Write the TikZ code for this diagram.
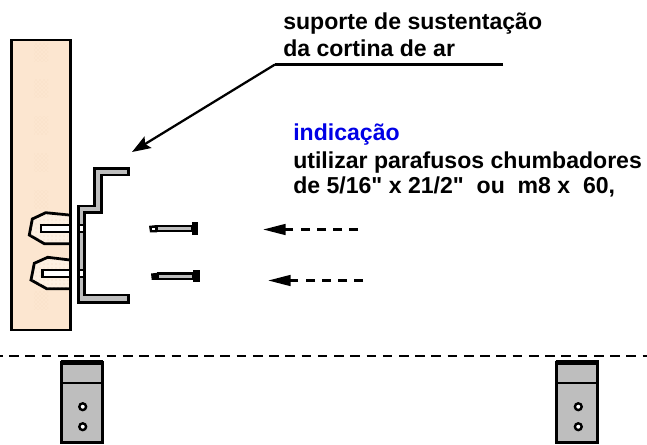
\documentclass[tikz,border=0pt]{standalone}
\usepackage{fontspec}
\newfontfamily\labfont{Liberation Sans}
\usetikzlibrary{arrows.meta,patterns}
\definecolor{peach}{HTML}{FCE6D0}
\definecolor{peachdot}{HTML}{F4DAC0}
\definecolor{blobfill}{HTML}{FDF0E2}
\definecolor{metal}{HTML}{BEBEBE}
\tikzset{
  x=0.75pt,y=-0.75pt,
  outline/.style={draw=black,line width=2.1pt,line join=miter},
  wallbody/.style={outline,fill=peach},
  blob/.style={outline,fill=blobfill},
  blobdots/.style={pattern=dots,pattern color=peachdot},
  metalpart/.style={draw=black,line width=2pt,fill=metal,line join=miter},
  hole/.style={draw=black,line width=1.8pt,fill=white},
  label/.style={font=\labfont\bfseries\fontsize{17.3}{19}\selectfont,anchor=base west,inner sep=0pt,text=black},
  flow/.style={line width=2pt,dash pattern=on 6.75pt off 5.25pt},
  tip/.style={-{Triangle[length=17pt,width=8pt]},line width=2pt},
  leadtip/.style={-{Stealth[length=14pt,width=10pt,inset=2.5pt]},line width=1.7pt},
  leader/.style={line width=1.7pt},
  mount/.style={draw=black,line width=1.9pt,fill=metal},
}
\begin{document}
\begin{tikzpicture}
\useasboundingbox (0,0) rectangle (647,444);
% wall
\draw[wallbody] (11.5,40) rectangle (70.5,330);
\foreach \yy in {52,88,125,162,199,300}{
  \fill[pattern=crosshatch dots,pattern color=peachdot] (34,\yy-9) rectangle (48,\yy+9);
}
% anchors
\draw[blob] (69,215) -- (45.7,212.7) -- (32.3,219) -- (29.3,235) -- (44.3,243.7) -- (69,243.7);
\fill[blobdots] (68,216) -- (45.7,214) -- (33.5,220) -- (30.5,235) -- (44.5,242.5) -- (68,242.5) -- cycle;
\draw[blob] (70,260) -- (47.7,257.3) -- (34.3,263.3) -- (31,280) -- (46.7,288.7) -- (70,288.7);
\fill[blobdots] (69,261) -- (47.7,258.5) -- (35.5,264.5) -- (32.2,280) -- (47,287.5) -- (69,287.5) -- cycle;
\draw[hole] (69.5,225) -- (41,225) -- (41,231.7) -- (69.5,231.7);
\draw[hole] (70,270) -- (42.5,270) -- (42.5,276.7) -- (70,276.7);
\draw[draw=black,line width=2.1pt] (70.5,40) -- (70.5,330);
% bracket
\draw[metalpart] (94.5,168.3) -- (128.3,168.3) -- (128.3,175) -- (101.7,175) -- (101.7,212.7) -- (84.3,212.7) -- (84.3,295) -- (128.3,295) -- (128.3,302.7) -- (78.3,302.7) -- (78.3,206) -- (94.5,206) -- cycle;
\draw[hole] (78.3,225) rectangle (84.3,231.7);
\draw[hole] (78.3,270) rectangle (84.3,276.7);
% screws
\fill[black] (191.7,222.3) rectangle (198,235.3);
\draw[draw=black,line width=1.7pt,fill=metal] (156.7,226) rectangle (191.7,231.2);
\fill[black] (149,225.8) -- (157,225) -- (157,232.3) -- (150,232.3) -- cycle;
\fill[white] (152,228) rectangle (154.5,229.8);
\fill[black] (193.3,270.3) rectangle (199.7,282.3);
\draw[draw=black,line width=1.7pt,fill=metal] (158,273.6) rectangle (193.3,278.8);
\fill[black] (151,273.5) -- (158.3,272.7) -- (158.3,279.8) -- (151.7,279.8) -- cycle;
% flow arrows
\coordinate (f1s) at (358,229.5);
\coordinate (f1d) at (300.7,229.5);
\coordinate (f1m) at (293,229.5);
\coordinate (f1e) at (263,229.5);
\coordinate (f2s) at (363,280.5);
\coordinate (f2d) at (305.7,280.5);
\coordinate (f2m) at (298,280.5);
\coordinate (f2e) at (268,280.5);
\draw[flow] (f1s) -- (f1d);
\draw[tip] (f1m) -- (f1e);
\draw[flow] (f2s) -- (f2d);
\draw[tip] (f2m) -- (f2e);
% leader
\coordinate (la) at (503,64.5);
\coordinate (lb) at (275,64.5);
\coordinate (lc) at (132,152);
\draw[leader] (la) -- (lb);
\draw[leadtip,line join=bevel] (lb) -- (lc);
% text
\node[label] (t1) at (283,29) {suporte de sustentação};
\node[label] (t2) at (283,56) {da cortina de ar};
\node[label,text={rgb,255:red,0;green,0;blue,230}] (t3) at (293,140) {indicação};
\node[label] (t4) at (293,168) {utilizar parafusos chumbadores};
\node[label] (t5) at (293,193) {de 5/16" x 21/2"\ \ ou\ \ m8 x\ \ 60,};
% dashed line
\coordinate (d1) at (0,356);
\coordinate (d2) at (647,356);
\draw[line width=1.5pt,dash pattern=on 7.27pt off 4.91pt,dash phase=5.25pt] (d1) -- (d2);
% mounts
\draw[mount] (61.7,362) rectangle (102.3,442.7);
\draw[line width=3.2pt] (60.7,362.5) -- (103.3,362.5);
\draw[line width=2.2pt] (61.7,383) -- (102.3,383);
\draw[hole] (82.7,406.7) circle (3.4);
\draw[hole] (82.7,426.7) circle (3.4);
\draw[mount] (556.7,362) rectangle (597.7,442.7);
\draw[line width=3.2pt] (555.7,362.5) -- (598.7,362.5);
\draw[line width=2.2pt] (556.7,383) -- (597.7,383);
\draw[hole] (578.3,406.7) circle (3.4);
\draw[hole] (578.3,426.7) circle (3.4);
\end{tikzpicture}
\end{document}
